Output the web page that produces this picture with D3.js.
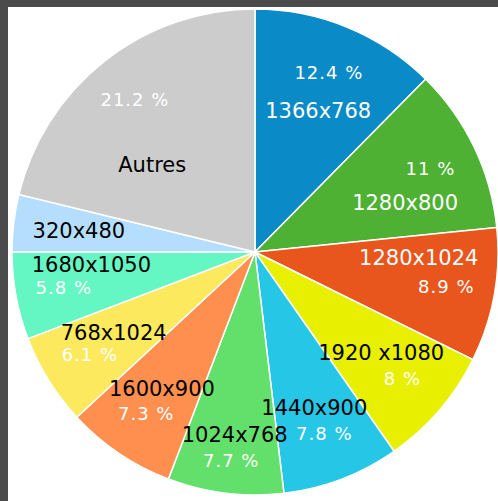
<!DOCTYPE html>
<html>
<head>
<meta charset="utf-8">
<script src="https://cdn.jsdelivr.net/npm/d3@7"></script>
<style>
  body { margin: 0; background: #4b4b4b; }
  svg { display: block; }
</style>
</head>
<body>
<div id="chart"></div>
<script>
// Screen resolutions share (%), clockwise from 12 o'clock
const resolutions = ["1366x768", "1280x800", "1280x1024", "1920 x1080", "1440x900",
    "1024x768", "1600x900", "768x1024", "1680x1050", "320x480", "Autres"];
const shares = [12.4, 11, 8.9, 8, 7.8, 7.7, 7.3, 6.1, 5.8, 3.8, 21.2];
const colors = ["#0a8ac6", "#4eb133", "#e8561e", "#e9ef00", "#26c6e6",
    "#63e06c", "#fe8f4f", "#fde95d", "#65f7c3", "#b5defe", "#cccccc"];

function draw_chart() {
    const width = 498, height = 501;
    const cx = 255, cy = 252, radius = 243;

    const svg = d3.select("#chart").append("svg")
        .attr("width", width)
        .attr("height", height);

    // white panel inside the dark frame
    svg.append("rect")
        .attr("x", 8).attr("y", 7)
        .attr("width", width - 8).attr("height", height - 7)
        .attr("fill", "#fff");

    const g = svg.append("g")
        .attr("transform", "translate(" + cx + "," + cy + ")");

    const data = resolutions.map((name, i) => ({ name: name, value: shares[i] }));

    const color = d3.scaleOrdinal().domain(resolutions).range(colors);

    const pie = d3.pie().sort(null).value(d => d.value);
    const arcs = pie(data);

    const arc = d3.arc().innerRadius(0).outerRadius(radius);
    const pctArc = d3.arc().innerRadius(radius * 0.8).outerRadius(radius * 0.8);
    const soloArc = d3.arc().innerRadius(radius * 0.73).outerRadius(radius * 0.73);

    g.selectAll("path.slice")
        .data(arcs)
        .join("path")
        .attr("class", "slice")
        .attr("d", arc)
        .attr("fill", d => color(d.data.name))
        .attr("stroke", "#fff")
        .attr("stroke-width", 1.5);

    const fmt = d3.format("~");
    const showPct = d => d.data.value >= 5;

    // name sits inward of the percentage: below it on the top half, above it on the bottom half
    function namePos(d) {
        if (!showPct(d)) return soloArc.centroid(d);
        const a = (d.startAngle + d.endAngle) / 2;
        const p = pctArc.centroid(d);
        const dy = Math.max(22, 2 + 3 * d.data.value);
        return [p[0] - Math.sin(a) * 28, p[1] + (Math.cos(a) > 0 ? dy : -dy)];
    }

    // one group per slice holding its name and percentage
    const labels = g.selectAll("g.label")
        .data(arcs)
        .join("g")
        .attr("class", "label");

    labels.filter(showPct).append("text")
        .attr("class", "pct")
        .attr("x", d => pctArc.centroid(d)[0])
        .attr("y", d => pctArc.centroid(d)[1])
        .attr("text-anchor", "middle")
        .attr("dominant-baseline", "central")
        .attr("font-family", "DejaVu Sans")
        .attr("font-size", 18)
        .attr("letter-spacing", 1)
        .attr("fill", "#fff")
        .text(d => fmt(d.data.value) + " %");

    labels.append("text")
        .attr("class", "name")
        .attr("x", d => namePos(d)[0])
        .attr("y", d => namePos(d)[1])
        .attr("text-anchor", "middle")
        .attr("dominant-baseline", "central")
        .attr("font-family", "DejaVu Sans")
        .attr("font-size", 21)
        .attr("fill", d => d3.lab(color(d.data.name)).l < 66 ? "#fff" : "#000")
        .text(d => d.data.name);

    // if two slices' labels collide, slide the lower label group down
    const groups = labels.nodes();
    const offsets = groups.map(() => 0);
    function boxes(k) {
        return Array.from(groups[k].querySelectorAll("text")).map(t => {
            const b = t.getBBox();
            return { x: b.x, y: b.y + offsets[k], w: b.width, h: b.height };
        });
    }
    for (let it = 0; it < 30; it++) {
        let moved = false;
        for (let i = 0; i < groups.length; i++) {
            for (let j = i + 1; j < groups.length; j++) {
                boxes(i).forEach(a => boxes(j).forEach(b => {
                    const ox = Math.min(a.x + a.w, b.x + b.w) - Math.max(a.x, b.x);
                    const oy = Math.min(a.y + a.h, b.y + b.h) - Math.max(a.y, b.y);
                    if (ox > 0 && oy > -2) {
                        const lower = a.y > b.y ? i : j;
                        offsets[lower] += oy + 3;
                        moved = true;
                    }
                }));
            }
        }
        if (!moved) break;
    }
    labels.attr("transform", (d, k) => "translate(0," + offsets[k] + ")");
}

draw_chart();
</script>
</body>
</html>
